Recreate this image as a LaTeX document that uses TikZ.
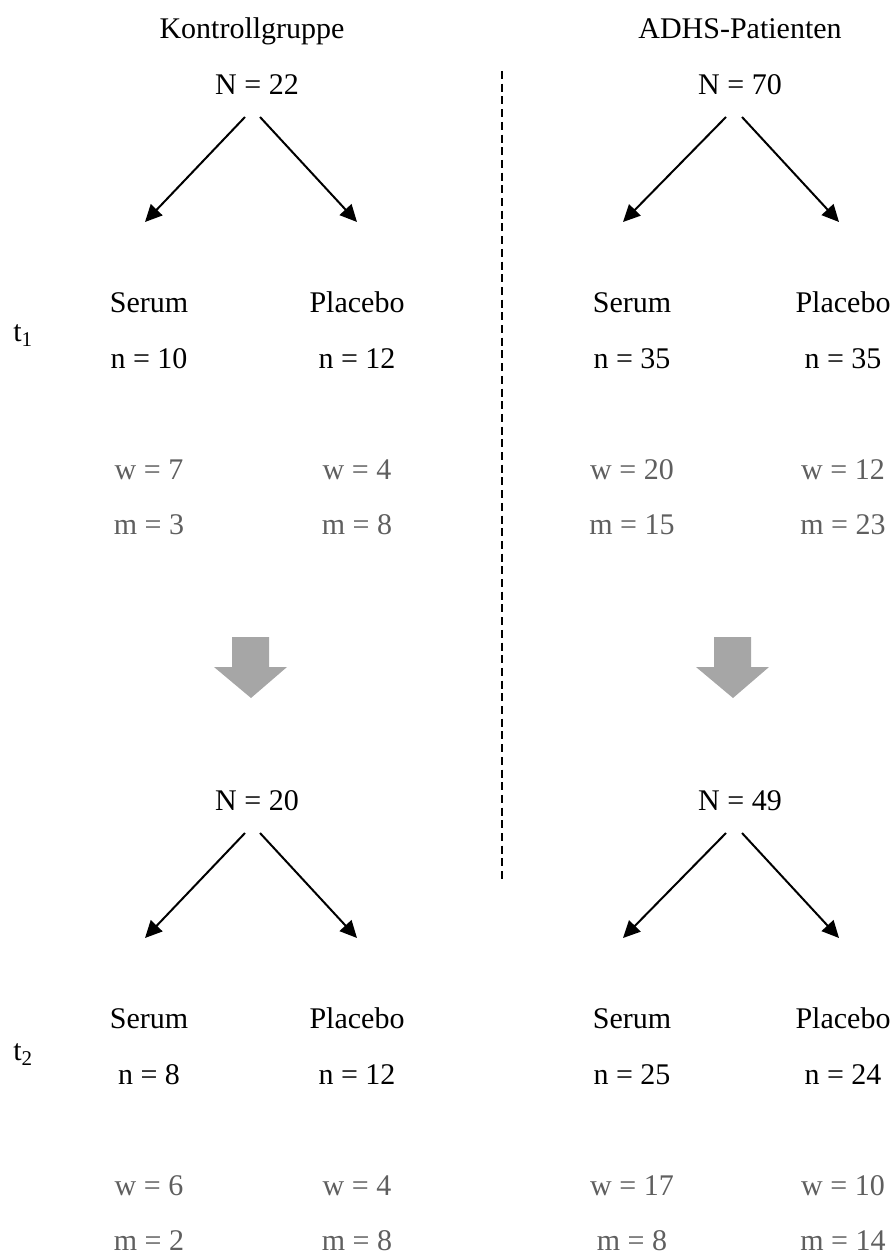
\documentclass[tikz,border=0pt]{standalone}
\usepackage{fontspec}
\setmainfont{Liberation Serif}
\usetikzlibrary{arrows.meta}
\definecolor{txtgray}{RGB}{95,95,95}
\definecolor{arrgray}{RGB}{166,166,166}
\begin{document}
\begin{tikzpicture}[x=1pt,y=-1pt,
  lbl/.style={anchor=base,inner sep=0pt,font=\fontsize{30}{36}\selectfont},
  glbl/.style={lbl,text=txtgray},
  split/.style={line width=2pt,-{Triangle[length=17pt,width=16pt]}},
  bigarrow/.style={fill=arrgray,draw=none}]
\useasboundingbox (0,0) rectangle (896,1255);
% headers
\node[lbl] (hk) at (252,38) {Kontrollgruppe};
\node[lbl] (ha) at (740,38) {ADHS-Patienten};
% dashed divider
\coordinate (d1) at (502,71);
\coordinate (d2) at (502,880);
\draw[line width=1.8pt,dash pattern=on 8pt off 4.7pt] (d1) -- (d2);
% time labels
\node[lbl] (t1) at (23,341) {t\textsubscript{1}};
\node[lbl] (t2) at (23,1060) {t\textsubscript{2}};
% blocks: Nx, start-left x, start-right x, tip-left x, tip-right x, Serum x, Placebo x, y-offset
\foreach \nx/\al/\ar/\tl/\tr/\sx/\px/\by/\NN/\sn/\pn/\sw/\sm/\pw/\pm/\id in {
  257/245/260/145/357/149/357/0/22/10/12/7/3/4/8/a,
  740/726/742/623/839/632/843/0/70/35/35/20/15/12/23/b,
  257/245/260/145/357/149/357/716/20/8/12/6/2/4/8/c,
  740/726/742/623/839/632/843/716/49/25/24/17/8/10/14/d}{
  \node[lbl] (N\id) at (\nx,94+\by) {N = \NN};
  \coordinate (sl\id) at (\al,117+\by);
  \coordinate (sr\id) at (\ar,117+\by);
  \coordinate (el\id) at (\tl,222+\by);
  \coordinate (er\id) at (\tr,222+\by);
  \node[lbl] (S\id) at (\sx,312+\by) {Serum};
  \node[lbl] (P\id) at (\px,312+\by) {Placebo};
  \node[lbl] (Sn\id) at (\sx,368+\by) {n = \sn};
  \node[lbl] (Pn\id) at (\px,368+\by) {n = \pn};
  \node[glbl] (Sw\id) at (\sx,479+\by) {w = \sw};
  \node[glbl] (Sm\id) at (\sx,534+\by) {m = \sm};
  \node[glbl] (Pw\id) at (\px,479+\by) {w = \pw};
  \node[glbl] (Pm\id) at (\px,534+\by) {m = \pm};
  \draw[split] (sl\id) -- (el\id);
  \draw[split] (sr\id) -- (er\id);
}
% gray block arrows
\foreach \cx/\id in {251/L,733/R}{
  \fill[arrgray] (\cx-19,637) -- (\cx+18,637) -- (\cx+18,667) -- (\cx+36,667)
     -- (\cx,698) -- (\cx-37,667) -- (\cx-19,667) -- cycle;
}
\end{tikzpicture}
\end{document}
